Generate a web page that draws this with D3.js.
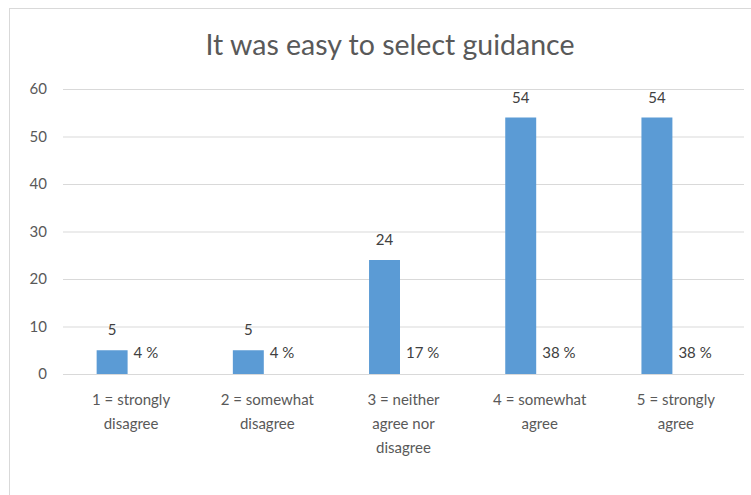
<!DOCTYPE html>
<html>
<head>
<meta charset="utf-8">
<script src="https://cdn.jsdelivr.net/npm/d3@7"></script>
<style>
  body { margin: 0; background: #fff; }
  svg { display: block; font-family: Lato, "Open Sans", sans-serif; }
</style>
</head>
<body>
<svg id="chart" width="751" height="495"></svg>
<script>
// data
var categories = ["1 = strongly disagree", "2 = somewhat disagree", "3 = neither agree nor disagree", "4 = somewhat agree", "5 = strongly agree"]
var categoryLines = [["1 = strongly", "disagree"], ["2 = somewhat", "disagree"], ["3 = neither", "agree nor", "disagree"], ["4 = somewhat", "agree"], ["5 = strongly", "agree"]]
var counts = [5, 5, 24, 54, 54]
var percents = [4, 4, 17, 38, 38]
var yTicks = [0, 10, 20, 30, 40, 50, 60]
var title = "It was easy to select guidance"

var width = 751
var height = 495
var margin = {left: 63, right: 7, top: 89, bottom: 121}

var barColor = "#5b9bd5"
var gridColor = "#d9d9d9"
var textColor = "#595959"

var svg = d3.select("#chart")

// outer frame of the chart area
svg.append("rect")
    .attr("x", 9.5)
    .attr("y", 8.5)
    .attr("width", 800)
    .attr("height", 600)
    .style("fill", "none")
    .style("stroke", gridColor)

svg.append("text")
    .attr("x", 390)
    .attr("y", 55)
    .attr("text-anchor", "middle")
    .style("font-size", "28.5px")
    .style("fill", textColor)
    .text(title)

var x = d3.scaleBand()
    .domain(categories)
    .range([margin.left, width - margin.right])

// two slots per category: the count bar and the (empty) percent slot
var sub = d3.scaleBand()
    .domain(["count", "percent"])
    .range([-3.5, x.bandwidth() - 3.5])
    .paddingOuter(1.2)

var y = d3.scaleLinear()
    .domain([0, 60])
    .range([height - margin.bottom, margin.top])

// gridlines + y labels
var yAxis = d3.axisLeft(y)
    .tickValues(yTicks)
    .tickSize(-(width - margin.left - margin.right))
    .tickPadding(16)

var gy = svg.append("g")
    .attr("transform", "translate(" + margin.left + ",0)")
    .call(yAxis)
gy.select(".domain").remove()
gy.selectAll("line").style("stroke", gridColor)
gy.selectAll("text")
    .style("font-size", "15px")
    .style("fill", textColor)
    .style("font-family", "Lato, sans-serif")

var groups = svg.selectAll(".cat")
    .data(categories)
    .enter().append("g")
    .attr("class", "cat")
    .attr("transform", d => "translate(" + x(d) + ",0)")

groups.append("rect")
    .attr("x", sub("count"))
    .attr("width", sub.bandwidth())
    .attr("y", (d, i) => y(counts[i]))
    .attr("height", (d, i) => y(0) - y(counts[i]))
    .style("fill", barColor)

// count labels above bars
groups.append("text")
    .attr("x", sub("count") + sub.bandwidth() / 2)
    .attr("y", (d, i) => y(counts[i]) - 15)
    .attr("text-anchor", "middle")
    .style("font-size", "15px")
    .style("fill", "#404040")
    .text((d, i) => counts[i])

// percent labels next to bars
groups.append("text")
    .attr("x", sub("percent") + 6)
    .attr("y", y(0) - 16)
    .style("font-size", "15px")
    .style("fill", "#404040")
    .text((d, i) => percents[i] + " %")

// category labels
groups.append("text")
    .attr("text-anchor", "middle")
    .style("font-size", "15px")
    .style("fill", textColor)
    .selectAll("tspan")
    .data((d, i) => categoryLines[i])
    .enter().append("tspan")
    .attr("x", x.bandwidth() / 2)
    .attr("y", (d, j) => y(0) + 31 + j * 24)
    .text(d => d)
</script>
</body>
</html>
